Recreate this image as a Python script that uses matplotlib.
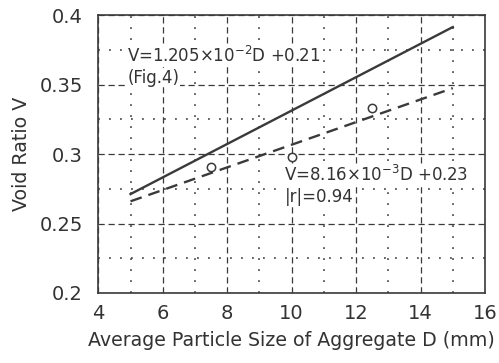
import matplotlib.pyplot as plt
from matplotlib.ticker import MultipleLocator

plt.rcParams['font.family'] = ['DejaVu Sans']

# measured points
D_pts = [7.5, 10, 12.5]
V_pts = [0.291, 0.298, 0.333]

# fitted lines (end points)
D_line = [5, 15]
V_fig4 = [0.2712, 0.3915]
V_fit = [0.2660, 0.3475]

ink = '#3a3a3a'

fig, ax = plt.subplots(figsize=(4.99, 3.63), dpi=100)
fig.subplots_adjust(left=0.197, right=0.972, bottom=0.193, top=0.958)

ax.plot(D_line, V_fig4, '-', color=ink, lw=1.7, zorder=3)
ax.plot(D_line, V_fit, '--', color=ink, lw=1.7, dashes=(5, 3), zorder=3)
ax.plot(D_pts, V_pts, 'o', mfc='white', mec=ink, ms=6, mew=1.1, zorder=4)

ax.set_xlim(4, 16)
ax.set_ylim(0.2, 0.4)
ax.xaxis.set_major_locator(MultipleLocator(2))
ax.xaxis.set_minor_locator(MultipleLocator(1))
ax.yaxis.set_major_locator(MultipleLocator(0.05))
ax.yaxis.set_minor_locator(MultipleLocator(0.025))
ax.set_yticks([0.2, 0.25, 0.3, 0.35, 0.4])
ax.set_yticklabels(['0.2', '0.25', '0.3', '0.35', '0.4'])

ax.grid(which='major', ls=(0, (5, 3)), color=ink, lw=0.9)
ax.grid(which='minor', ls=(0, (1.2, 6)), color=ink, lw=1.1)
ax.tick_params(which='both', length=0, labelsize=14, colors='#333333')
ax.tick_params(axis='y', pad=11)
ax.tick_params(axis='x', pad=8)
for s in ax.spines.values():
    s.set_color(ink)
    s.set_linewidth(1.2)

ax.set_xlabel('Average Particle Size of Aggregate D (mm)', fontsize=13.7, color='#333333', labelpad=6)
ax.set_ylabel('Void Ratio V', fontsize=13.7, color='#333333', labelpad=6)

box = dict(facecolor='white', edgecolor='none', pad=0.5)
ax.text(4.9, 0.371, r'V=1.205$\times$10$^{-2}$D +0.21', fontsize=12, color='#333333',
        va='center', bbox=box, zorder=2)
ax.text(4.9, 0.355, '(Fig.4)', fontsize=12, color='#333333', va='center', bbox=box, zorder=2)
ax.text(9.75, 0.285, r'V=8.16$\times$10$^{-3}$D +0.23', fontsize=12, color='#333333',
        va='center', bbox=box, zorder=2)
ax.text(9.8, 0.269, '|r|=0.94', fontsize=12, color='#333333', va='center', bbox=box, zorder=2)

fig.savefig('out.png')
